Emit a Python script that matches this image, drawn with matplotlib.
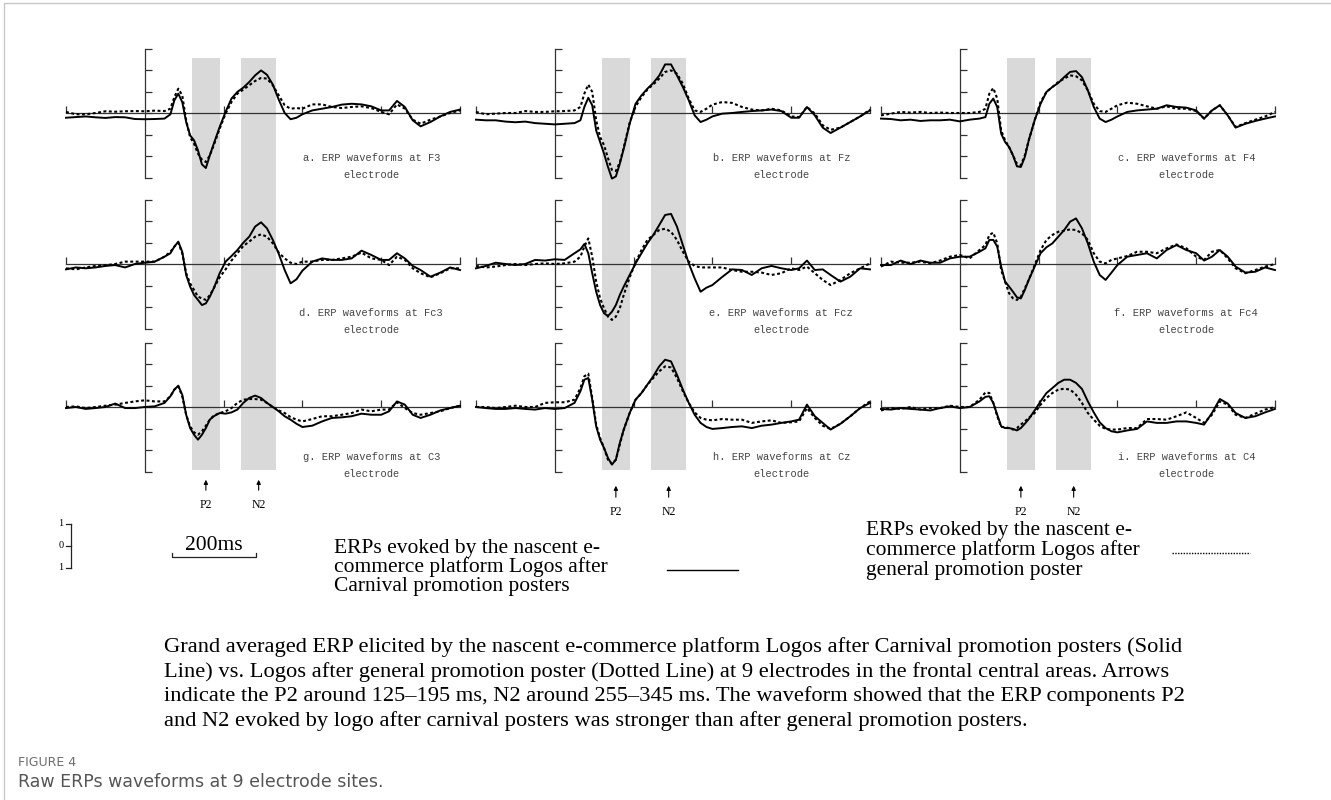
import numpy as np
import matplotlib
matplotlib.use("Agg")
import matplotlib.pyplot as plt
from matplotlib.lines import Line2D
from matplotlib import transforms

W, H = 1331, 800

# time axis (ms) shared by every waveform
times = [-200, -175, -150, -125, -100, -75, -50, -25, 0, 25, 50,
         65, 75, 85, 95, 105, 115, 125, 135, 145, 155, 165, 175,
         190, 205, 220, 235, 250, 265, 280, 295, 310, 325, 340, 355, 370, 385, 400,
         425, 450, 475, 500, 525, 550, 575, 600, 620, 640, 660, 680, 700, 725, 750, 775, 800]

# amplitudes (uV), negative plotted up
a_solid = [0.22, 0.19, 0.16, 0.2, 0.23, 0.19, 0.2, 0.28, 0.29, 0.28, 0.26,
           0.06, -0.59, -0.9, -0.51, 0.42, 1.04, 1.27, 1.74, 2.39, 2.56, 1.97, 1.43,
           0.65, -0.05, -0.67, -0.98, -1.18, -1.44, -1.75, -1.98, -1.78, -1.32, -0.62, 0, 0.29, 0.22, 0.06,
           -0.12, -0.2, -0.28, -0.39, -0.43, -0.4, -0.31, -0.12, -0.12, -0.56, -0.28, 0.34, 0.62, 0.42, 0.16, -0.05, -0.16]
a_dotted = [-0.05, 0.06, 0.06, 0, -0.08, -0.06, -0.08, -0.09, -0.08, -0.11, -0.09,
            -0.2, -0.74, -1.13, -0.82, 0.34, 1.12, 1.43, 1.89, 2.17, 2.28, 1.97, 1.5,
            0.73, 0.03, -0.51, -0.9, -1.09, -1.29, -1.49, -1.63, -1.6, -1.29, -0.82, -0.36, -0.2, -0.23, -0.2,
            -0.4, -0.4, -0.28, -0.23, -0.28, -0.31, -0.23, -0.05, 0.06, -0.4, -0.2, 0.31, 0.5, 0.31, 0.16, 0, -0.12]

b_solid = [0.31, 0.34, 0.34, 0.4, 0.43, 0.4, 0.47, 0.5, 0.53, 0.5, 0.47,
           0.34, -0.28, -0.71, -0.36, 0.81, 1.35, 1.89, 2.51, 3.05, 2.95, 2.36, 1.66,
           0.5, -0.43, -0.82, -1.13, -1.4, -1.74, -2.26, -2.26, -1.75, -1.21, -0.59, 0.11, 0.42, 0.31, 0.16,
           0.03, 0, -0.05, -0.09, -0.12, -0.16, -0.09, 0.22, 0.22, -0.28, 0.11, 0.68, 0.93, 0.68, 0.42, 0.16, -0.12]
b_dotted = [-0.05, 0.06, 0.03, 0, 0, -0.09, -0.05, -0.05, -0.08, -0.09, -0.12,
            -0.28, -0.9, -1.32, -0.98, 0.34, 1.12, 1.5, 2.1, 2.65, 2.7, 2.3, 1.6,
            0.45, -0.3, -0.74, -1.09, -1.33, -1.6, -1.91, -1.98, -1.83, -1.36, -0.67, -0.12, -0.05, -0.2, -0.39,
            -0.51, -0.47, -0.28, -0.16, -0.12, -0.2, -0.12, 0.16, 0.19, -0.28, 0.03, 0.57, 0.78, 0.68, 0.42, 0.16, -0.16]

c_solid = [0.26, 0.28, 0.34, 0.31, 0.37, 0.34, 0.34, 0.31, 0.39, 0.31, 0.26,
           0.19, -0.43, -0.67, -0.28, 0.96, 1.35, 1.58, 1.97, 2.48, 2.51, 2.05, 1.27,
           0.34, -0.43, -0.98, -1.21, -1.4, -1.67, -1.91, -1.95, -1.67, -1.05, -0.28, 0.26, 0.42, 0.31, 0.16,
           -0.05, -0.12, -0.16, -0.2, -0.36, -0.28, -0.25, -0.12, 0.26, -0.12, -0.36, 0.11, 0.68, 0.5, 0.37, 0.26, 0.16]
c_dotted = [0.11, 0.03, -0.05, -0.02, -0.05, 0, -0.02, 0, 0, 0, -0.05,
            -0.2, -0.9, -1.16, -0.67, 0.81, 1.27, 1.58, 1.97, 2.36, 2.43, 1.97, 1.27,
            0.34, -0.51, -0.98, -1.21, -1.44, -1.6, -1.75, -1.71, -1.52, -1.05, -0.43, -0.09, -0.05, -0.2, -0.36,
            -0.48, -0.43, -0.31, -0.2, -0.31, -0.2, -0.2, -0.09, 0.26, -0.12, -0.36, 0.11, 0.65, 0.47, 0.31, 0.16, -0.05]

d_solid = [0.25, 0.16, 0.2, 0.16, 0.09, 0.05, 0.16, 0, -0.06, -0.11, -0.34,
           -0.5, -0.81, -1.04, -0.57, 0.51, 1.05, 1.44, 1.67, 1.91, 1.83, 1.52, 1.13,
           0.43, -0.11, -0.37, -0.65, -0.99, -1.27, -1.74, -1.94, -1.66, -1.12, -0.47, 0.28, 0.9, 0.71, 0.31,
           -0.11, -0.26, -0.19, -0.19, -0.26, -0.62, -0.42, -0.19, -0.19, -0.5, -0.26, 0.09, 0.28, 0.59, 0.4, 0.16, 0.28]
d_dotted = [0.2, 0.25, 0.16, 0.09, 0.06, 0, -0.11, -0.11, -0.11, -0.11, -0.34,
            -0.57, -0.81, -0.99, -0.5, 0.43, 0.9, 1.21, 1.52, 1.6, 1.67, 1.45, 1.13,
            0.62, 0.25, -0.16, -0.5, -0.84, -1.04, -1.27, -1.38, -1.27, -0.96, -0.53, -0.26, -0.06, 0, -0.11,
            -0.11, -0.19, -0.19, -0.26, -0.34, -0.53, -0.26, -0.19, 0.05, -0.34, -0.19, 0.2, 0.43, 0.62, 0.43, 0.2, 0.2]

e_solid = [0.2, 0.09, -0.06, 0, 0.05, 0, -0.19, -0.16, -0.22, -0.19, -0.5,
           -0.68, -0.93, -0.5, 0.43, 1.29, 1.91, 2.29, 2.42, 2.22, 1.91, 1.44, 1.05,
           0.51, -0.03, -0.5, -0.96, -1.35, -1.81, -2.28, -2.33, -1.74, -0.88, -0.03, 0.67, 1.29, 1.1, 0.98,
           0.6, 0.25, 0.28, 0.51, 0.2, 0.09, 0.2, 0.28, 0.2, -0.16, 0.28, 0.25, 0.51, 0.82, 0.59, 0.2, 0.25]
e_dotted = [0.09, 0.16, 0.12, 0.05, 0, 0.05, 0, -0.03, 0, -0.03, -0.11,
            -0.34, -0.81, -1.19, -0.34, 0.82, 1.6, 2.06, 2.45, 2.6, 2.45, 2.06, 1.44,
            0.62, -0.06, -0.65, -1.12, -1.35, -1.58, -1.64, -1.5, -1.12, -0.57, -0.11, 0.09, 0.16, 0.16, 0.16,
            0.16, 0.28, 0.36, 0.36, 0.4, 0.51, 0.43, 0.2, 0.28, 0.12, 0.43, 0.74, 0.98, 0.74, 0.43, 0.2, -0.03]

f_solid = [0.05, 0.05, -0.16, 0, -0.16, -0.06, -0.06, -0.26, -0.34, -0.34, -0.57,
           -0.73, -1.12, -1.12, -0.81, 0.12, 0.82, 1.05, 1.29, 1.55, 1.6, 1.21, 0.74,
           0.12, -0.5, -0.78, -0.96, -1.27, -1.58, -1.97, -2.12, -1.66, -0.96, -0.11, 0.51, 0.74, 0.4, 0.05,
           -0.34, -0.42, -0.5, -0.26, -0.65, -0.88, -0.65, -0.5, -0.16, -0.34, -0.65, -0.34, 0.12, 0.4, 0.36, 0.16, 0.28]
f_dotted = [0.12, -0.11, -0.06, -0.06, -0.11, -0.03, -0.16, -0.34, -0.42, -0.26, -0.65,
            -0.88, -1.35, -1.46, -0.96, 0.28, 0.82, 1.36, 1.6, 1.67, 1.52, 1.13, 0.74,
            0.05, -0.65, -1.12, -1.35, -1.5, -1.55, -1.61, -1.58, -1.43, -1.12, -0.5, -0.11, -0.03, -0.19, -0.26,
            -0.37, -0.57, -0.57, -0.5, -0.73, -0.91, -0.73, -0.34, -0.19, -0.57, -0.65, -0.26, 0.2, 0.43, 0.28, 0.12, 0]

g_solid = [0.05, 0, 0.09, 0.05, 0, -0.16, 0.05, 0.05, 0, -0.03, -0.19,
           -0.5, -0.81, -0.99, -0.57, 0.36, 0.98, 1.29, 1.52, 1.29, 0.98, 0.59, 0.43,
           0.28, 0.31, 0.25, 0.12, -0.19, -0.42, -0.53, -0.42, -0.19, 0, 0.2, 0.43, 0.59, 0.78, 0.93,
           0.87, 0.67, 0.51, 0.48, 0.43, 0.31, 0.36, 0.36, 0.2, -0.26, -0.11, 0.36, 0.51, 0.36, 0.16, 0.05, -0.06]
g_dotted = [0, -0.03, 0.05, 0, -0.06, -0.11, -0.19, -0.26, -0.31, -0.26, -0.26,
            -0.5, -0.81, -0.96, -0.5, 0.36, 0.9, 1.18, 1.29, 1.13, 0.87, 0.59, 0.4,
            0.28, 0.2, 0.05, -0.19, -0.34, -0.37, -0.37, -0.34, -0.19, 0, 0.16, 0.28, 0.47, 0.59, 0.67,
            0.56, 0.43, 0.43, 0.36, 0.28, 0.12, 0.2, 0.12, 0.12, -0.22, 0.05, 0.28, 0.36, 0.28, 0.2, 0.05, -0.06]

h_solid = [0, 0.05, 0.09, 0.09, 0.05, 0.09, 0.12, 0.05, 0.09, 0.05, -0.19,
           -0.73, -1.27, -1.35, -0.34, 0.9, 1.52, 1.91, 2.37, 2.68, 2.45, 1.67, 1.05,
           0.28, -0.34, -0.65, -1.04, -1.43, -1.89, -2.2, -2.12, -1.5, -0.81, -0.19, 0.36, 0.74, 0.93, 1.02,
           0.98, 0.93, 0.9, 0.98, 0.87, 0.82, 0.74, 0.67, 0.59, -0.11, 0.43, 0.74, 1.05, 0.78, 0.43, 0.05, -0.19]
h_dotted = [0, 0, 0.05, 0, -0.06, 0, 0, -0.19, -0.22, -0.22, -0.34,
            -0.88, -1.43, -1.55, -0.42, 0.82, 1.44, 1.91, 2.45, 2.64, 2.45, 1.75, 1.05,
            0.28, -0.34, -0.65, -1.04, -1.35, -1.66, -1.89, -1.84, -1.35, -0.73, -0.19, 0.25, 0.51, 0.59, 0.62,
            0.56, 0.59, 0.59, 0.74, 0.67, 0.62, 0.74, 0.71, 0.67, 0.05, 0.51, 0.87, 1.02, 0.78, 0.43, 0.05, -0.26]

i_solid = [0.09, 0.12, 0.05, 0.09, 0.12, 0.16, 0.05, -0.03, 0.05, 0, -0.26,
           -0.47, -0.5, -0.19, 0.36, 0.9, 0.98, 0.98, 1.02, 1.09, 0.98, 0.78, 0.56,
           0.16, -0.26, -0.65, -0.88, -1.12, -1.27, -1.27, -1.12, -0.84, -0.26, 0.25, 0.71, 0.98, 1.13, 1.18,
           1.09, 1.02, 0.67, 0.74, 0.74, 0.67, 0.67, 0.74, 0.82, 0.28, -0.37, -0.16, 0.28, 0.51, 0.43, 0.25, 0.09]
i_dotted = [0.16, 0.05, 0.09, 0, 0.12, 0.05, 0.05, -0.06, 0, 0, -0.34,
            -0.68, -0.65, -0.19, 0.43, 0.93, 0.93, 0.98, 1.05, 0.98, 0.82, 0.67, 0.51,
            0.28, -0.11, -0.42, -0.65, -0.81, -0.85, -0.81, -0.57, -0.19, 0.28, 0.59, 0.87, 1.02, 1.05, 1.05,
            0.98, 0.98, 0.56, 0.56, 0.59, 0.43, 0.25, 0.51, 0.74, 0.36, -0.26, -0.11, 0.36, 0.51, 0.31, 0.12, 0]

letters = ["a", "b", "c", "d", "e", "f", "g", "h", "i"]
sites = ["F3", "Fz", "F4", "Fc3", "Fcz", "Fc4", "C3", "Cz", "C4"]
solids = [a_solid, b_solid, c_solid, d_solid, e_solid, f_solid, g_solid, h_solid, i_solid]
dotteds = [a_dotted, b_dotted, c_dotted, d_dotted, e_dotted, f_dotted, g_dotted, h_dotted, i_dotted]

p2_window = (120, 190)
n2_window = (244, 334)
y_ticks = [-3, -2, -1, 0, 1, 2, 3]
x_ticks = [-200, 200, 400, 600, 800]

legend_solid = ["ERPs evoked by the nascent e-", "commerce platform Logos after", "Carnival promotion posters"]
legend_dotted = ["ERPs evoked by the nascent e-", "commerce platform Logos after", "general promotion poster"]
caption = [
    "Grand averaged ERP elicited by the nascent e-commerce platform Logos after Carnival promotion posters (Solid",
    "Line) vs. Logos after general promotion poster (Dotted Line) at 9 electrodes in the frontal central areas. Arrows",
    "indicate the P2 around 125\u2013195 ms, N2 around 255\u2013345 ms. The waveform showed that the ERP components P2",
    "and N2 evoked by logo after carnival posters was stronger than after general promotion posters.",
]

# layout in pixels
col_left = [66, 476, 881]
col_width = 394
row_top = [40, 190, 336]
row_bot = [190, 336, 482]
row_base = [113, 264, 407]
unit_px = 21.5
band_top, band_bot = 58, 470
label_off = [2.1, 2.28, 2.33]
arrow_px = [(477, 493, 505), (483, 500, 512), (483, 500, 512)]


def fx(px):
    return px / W


def fy(px):
    return 1 - px / H


serif = "Liberation Serif"
fig = plt.figure(figsize=(W / 100, H / 100), dpi=100)

for k in range(9):
    r, c = divmod(k, 3)
    top, bot, base = row_top[r], row_bot[r], row_base[r]
    ax = fig.add_axes([fx(col_left[c]), fy(bot), col_width / W, (bot - top) / H])
    ax.set_xlim(-200, 800)
    ax.set_ylim((bot - base) / unit_px, -(base - top) / unit_px)
    ax.patch.set_alpha(0)

    frac = lambda p: (bot - p) / (bot - top)
    ymin = frac(min(band_bot, bot))
    ymax = frac(max(band_top, top))
    for lo, hi in (p2_window, n2_window):
        ax.axvspan(lo, hi, ymin=ymin, ymax=ymax, color="#d9d9d9", lw=0, zorder=0)

    ax.plot(times, solids[k], color="black", lw=1.4, clip_on=False, zorder=3)
    ax.plot(times, dotteds[k], color="black", lw=1.5, ls=(0, (1.4, 1.2)), clip_on=False, zorder=3)

    for s in ("top", "right"):
        ax.spines[s].set_visible(False)
    ax.spines["left"].set_position(("data", 0))
    ax.spines["left"].set_bounds(-3, 3)
    ax.spines["bottom"].set_position(("data", 0))
    ax.spines["bottom"].set_bounds(-200, 800)
    for s in ("left", "bottom"):
        ax.spines[s].set_color("#333333")
        ax.spines[s].set_linewidth(0.9)
        ax.spines[s].set_zorder(2)
    ax.set_yticks(y_ticks)
    ax.set_xticks(x_ticks)
    ax.set_xticklabels([])
    ax.set_yticklabels([])
    ax.tick_params(direction="in", length=5, width=0.9, color="#333333")

    ax.text(575, label_off[r], f"{letters[k]}. ERP waveforms at {sites[k]}", ha="center", va="center",
            family="Liberation Mono", fontsize=7.5, color="#444444")
    ax.text(575, label_off[r] + 0.8, "electrode", ha="center", va="center",
            family="Liberation Mono", fontsize=7.5, color="#444444")

    if r == 2:
        tr = transforms.blended_transform_factory(ax.transData, fig.transFigure)
        a_top, a_bot, lab_y = arrow_px[c]
        for name, (lo, hi) in (("P2", p2_window), ("N2", n2_window)):
            xc = (lo + hi) / 2
            ax.annotate("", xy=(xc, fy(a_top)), xytext=(xc, fy(a_bot)), xycoords=tr, textcoords=tr,
                        arrowprops=dict(arrowstyle="-|>", color="black", lw=0.8, mutation_scale=6),
                        annotation_clip=False)
            ax.text(xc, fy(lab_y), name, transform=tr, ha="center", va="center",
                    family=serif, fontsize=8.5)

# scale bar
ln = dict(color="#222222", lw=0.9, transform=fig.transFigure)
fig.add_artist(Line2D([fx(71), fx(71)], [fy(524), fy(568)], **ln))
for yy, lab in ((524, "1"), (546, "0"), (568, "1")):
    fig.add_artist(Line2D([fx(66), fx(71)], [fy(yy), fy(yy)], **ln))
    fig.text(fx(61), fy(yy), lab, ha="center", va="center", family=serif, fontsize=7.5)
fig.add_artist(Line2D([fx(172), fx(172), fx(256), fx(256)], [fy(553), fy(557), fy(557), fy(553)], **ln))
fig.text(fx(214), fy(545), "200ms", ha="center", va="center", family=serif, fontsize=15.5)

# legend
for j, line in enumerate(legend_solid):
    fig.text(fx(334), fy(548 + 19.5 * j), line, ha="left", va="center", family=serif, fontsize=15.5)
fig.add_artist(Line2D([fx(667), fx(738)], [fy(570), fy(570)], color="black", lw=1.0, transform=fig.transFigure))
for j, line in enumerate(legend_dotted):
    fig.text(fx(866), fy(531 + 19.5 * j), line, ha="left", va="center", family=serif, fontsize=15.5)
fig.add_artist(Line2D([fx(1172), fx(1250)], [fy(553), fy(553)], color="black", lw=1.0, ls=(0, (1, 1)),
                      transform=fig.transFigure))

# caption
for j, line in enumerate(caption):
    fig.text(fx(164), fy(647 + 24.7 * j), line, ha="left", va="center", family=serif, fontsize=16.2)

fig.text(fx(18), fy(762), "FIGURE 4", ha="left", va="center",
         family="DejaVu Sans", fontsize=9, color="#6d6d6d")
fig.text(fx(18), fy(782), "Raw ERPs waveforms at 9 electrode sites.", ha="left", va="center",
         family="DejaVu Sans", fontsize=12.5, color="#555555")

# page frame
fig.add_artist(Line2D([fx(4), fx(4), 1], [0, fy(3), fy(3)], color="#c8c8c8", lw=1, transform=fig.transFigure))

fig.savefig("out.png", dpi=100, facecolor="white")
